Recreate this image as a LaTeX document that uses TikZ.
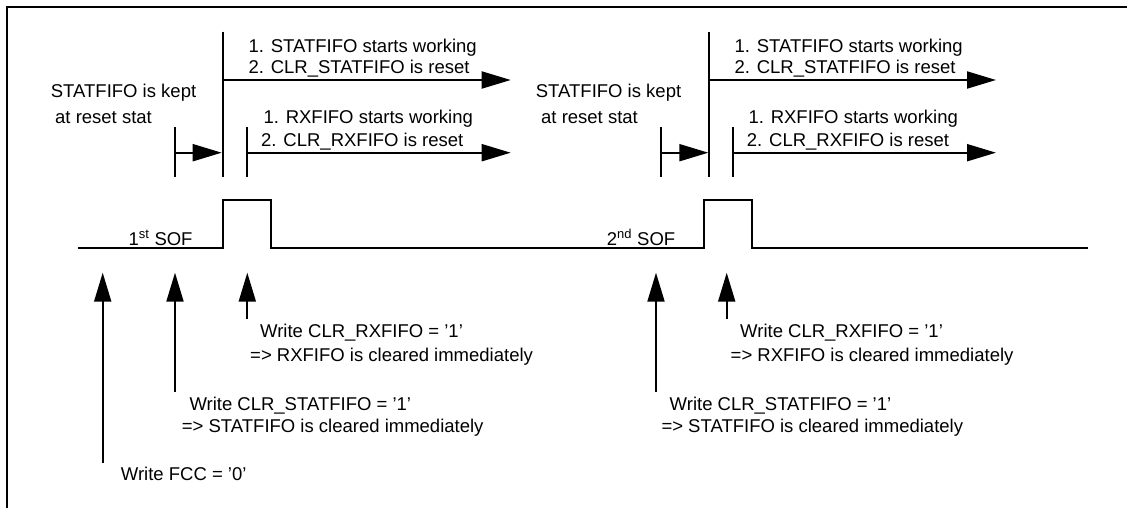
\documentclass[tikz,border=0pt]{standalone}
\usepackage{fontspec}
\setmainfont{Liberation Sans}
\usetikzlibrary{arrows.meta}
\begin{document}
\begin{tikzpicture}[x=1pt,y=-1pt,
  ln/.style={line width=2pt},
  arr/.style={line width=2pt,-{Triangle[length=29pt,width=17pt]}},
  lbl/.style={anchor=base west,inner sep=0pt,font=\fontsize{18.5}{22}\selectfont}]
\useasboundingbox (0,0) rectangle (1127,508);
% frame
\draw[ln] (7.3,508) -- (7.3,7.3) -- (1127,7.3);
% ---------- group 1 ----------
\coordinate (v1t) at (222.7,31.7);
\coordinate (v1b) at (222.7,176.7);
\coordinate (a1s) at (222.7,80);
\coordinate (a1e) at (510.7,80);
\coordinate (t1t) at (247,127.3);
\coordinate (t1b) at (247,176.7);
\coordinate (a2s) at (247,152.7);
\coordinate (a2e) at (510.7,152.7);
\coordinate (l1t) at (175,127.3);
\coordinate (l1b) at (175,176.7);
\coordinate (a3s) at (175,152.7);
\coordinate (a3e) at (221.7,152.7);
\draw[ln] (v1t) -- (v1b);
\draw[ln] (t1t) -- (t1b);
\draw[ln] (l1t) -- (l1b);
\draw[arr] (a1s) -- (a1e);
\draw[arr] (a2s) -- (a2e);
\draw[arr] (a3s) -- (a3e);
% ---------- group 2 ----------
\coordinate (v2t) at (709.3,31.7);
\coordinate (v2b) at (709.3,176.7);
\coordinate (b1s) at (709.3,80);
\coordinate (b1e) at (996,80);
\coordinate (t2t) at (732.7,127.3);
\coordinate (t2b) at (732.7,176.7);
\coordinate (b2s) at (732.7,152.7);
\coordinate (b2e) at (996,152.7);
\coordinate (l2t) at (661,127.3);
\coordinate (l2b) at (661,176.7);
\coordinate (b3s) at (661,152.7);
\coordinate (b3e) at (708.3,152.7);
\draw[ln] (v2t) -- (v2b);
\draw[ln] (t2t) -- (t2b);
\draw[ln] (l2t) -- (l2b);
\draw[arr] (b1s) -- (b1e);
\draw[arr] (b2s) -- (b2e);
\draw[arr] (b3s) -- (b3e);
% ---------- waveform ----------
\draw[ln] (78.3,247.7) -- (222.7,247.7) -- (222.7,200) -- (270.7,200) -- (270.7,247.7)
  -- (704,247.7) -- (704,200) -- (751.7,200) -- (751.7,247.7) -- (1088.3,247.7);
% ---------- bottom arrows ----------
\coordinate (u1s) at (102.7,463.3); \coordinate (u1e) at (102.7,272.7);
\coordinate (u2s) at (175,391.7);   \coordinate (u2e) at (175,272.7);
\coordinate (u3s) at (247.3,319.3); \coordinate (u3e) at (247.3,272.7);
\coordinate (w2s) at (656,391.7);   \coordinate (w2e) at (656,272.7);
\coordinate (w3s) at (726.7,319.3); \coordinate (w3e) at (726.7,272.7);
\draw[arr] (u1s) -- (u1e);
\draw[arr] (u2s) -- (u2e);
\draw[arr] (u3s) -- (u3e);
\draw[arr] (w2s) -- (w2e);
\draw[arr] (w3s) -- (w3e);
% ---------- texts group 1 ----------
\node[lbl] (k1a) at (50.7,97.3) {STATFIFO is kept};
\node[lbl] (k1b) at (55,124) {at reset stat};
\node[lbl] (s1a) at (248.3,52.7) {1. STATFIFO starts working};
\node[lbl] (s1b) at (248.3,73.3) {2. CLR\_STATFIFO is reset};
\node[lbl] (r1a) at (263.3,124) {1. RXFIFO starts working};
\node[lbl] (r1b) at (261,146.5) {2. CLR\_RXFIFO is reset};
\node[lbl] (sof1) at (128.3,245) {1\textsuperscript{st} SOF};
\node[lbl] (c1a) at (260,337) {Write CLR\_RXFIFO = ’1’};
\node[lbl] (c1b) at (250,361.7) {=> RXFIFO is cleared immediately};
\node[lbl] (d1a) at (189.3,410) {Write CLR\_STATFIFO = ’1’};
\node[lbl] (d1b) at (181.7,432) {=> STATFIFO is cleared immediately};
\node[lbl] (fcc) at (120.7,480) {Write FCC = ’0’};
% ---------- texts group 2 ----------
\node[lbl] (k2a) at (535.7,97.3) {STATFIFO is kept};
\node[lbl] (k2b) at (541,124) {at reset stat};
\node[lbl] (s2a) at (734.3,52.7) {1. STATFIFO starts working};
\node[lbl] (s2b) at (734.3,73.3) {2. CLR\_STATFIFO is reset};
\node[lbl] (r2a) at (748.3,124) {1. RXFIFO starts working};
\node[lbl] (r2b) at (746.7,146.5) {2. CLR\_RXFIFO is reset};
\node[lbl] (sof2) at (606.7,245) {2\textsuperscript{nd} SOF};
\node[lbl] (c2a) at (740,337) {Write CLR\_RXFIFO = ’1’};
\node[lbl] (c2b) at (730.5,361.7) {=> RXFIFO is cleared immediately};
\node[lbl] (d2a) at (669.5,410) {Write CLR\_STATFIFO = ’1’};
\node[lbl] (d2b) at (661.3,432) {=> STATFIFO is cleared immediately};
\end{tikzpicture}
\end{document}
